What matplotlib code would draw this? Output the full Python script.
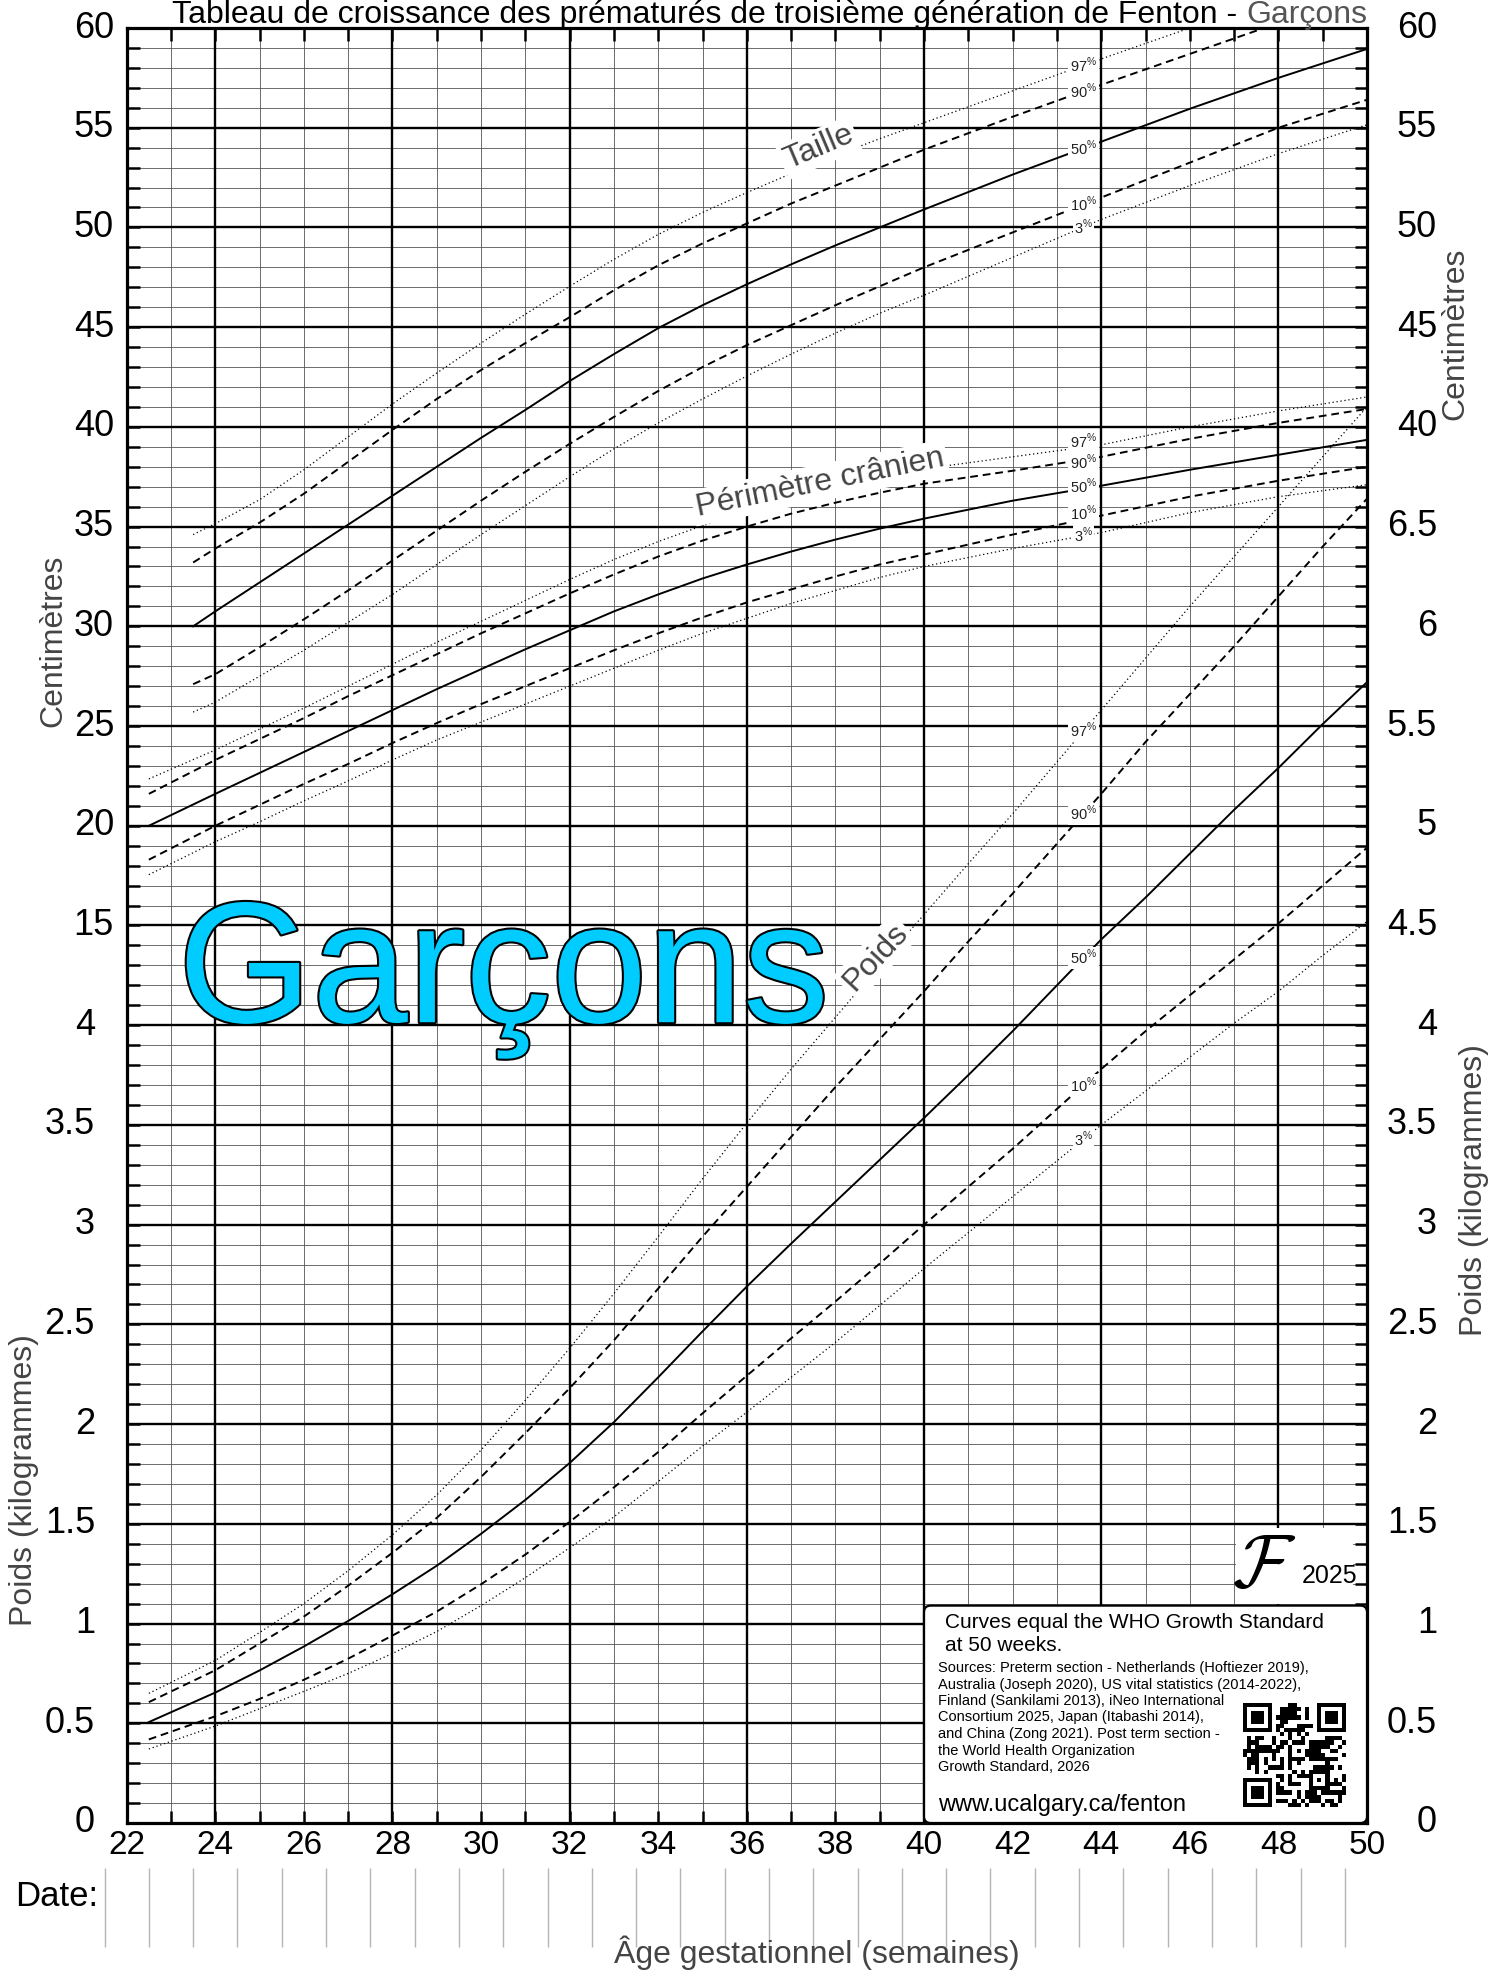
import numpy as np
import matplotlib
matplotlib.use('Agg')
import matplotlib.pyplot as plt
import matplotlib.patheffects as pe
import matplotlib.transforms as mtrans
from matplotlib.patches import FancyBboxPatch, Rectangle

plt.rcParams['font.family'] = ['Liberation Sans', 'DejaVu Sans']
plt.rcParams['mathtext.fontset'] = 'custom'
plt.rcParams['mathtext.rm'] = 'Liberation Sans'

# ---- donnees ----
# Taille (cm)
weeks_len = [23.5, 24, 25, 26, 27, 28, 29, 30, 31, 32, 33, 34, 35, 36, 37, 38, 39, 40, 42, 44, 46, 48, 50]
len_p97 = [34.6, 35.15, 36.35, 37.85, 39.5, 41.15, 42.7, 44.2, 45.65, 47.05, 48.4, 49.65, 50.75, 51.75, 52.7, 53.6, 54.45, 55.25, 56.85, 58.45, 60.0, 61.5, 62.8]
len_p90 = [33.2, 33.9, 35.2, 36.65, 38.25, 39.85, 41.4, 42.85, 44.2, 45.5, 46.85, 48.1, 49.2, 50.2, 51.2, 52.1, 53.0, 53.9, 55.55, 57.15, 58.7, 60.25, 61.6]
len_p50 = [30.0, 30.75, 32.2, 33.65, 35.1, 36.55, 38.0, 39.45, 40.85, 42.3, 43.65, 44.95, 46.1, 47.15, 48.15, 49.1, 50.0, 50.9, 52.65, 54.3, 55.95, 57.5, 58.95]
len_p10 = [27.1, 27.6, 28.95, 30.35, 31.8, 33.3, 34.8, 36.3, 37.75, 39.15, 40.5, 41.8, 43.0, 44.1, 45.1, 46.1, 47.05, 48.0, 49.75, 51.5, 53.25, 55.0, 56.4]
len_p3 = [25.7, 26.2, 27.5, 28.8, 30.2, 31.6, 33.1, 34.6, 36.05, 37.5, 38.9, 40.2, 41.4, 42.55, 43.65, 44.7, 45.7, 46.6, 48.5, 50.4, 52.1, 53.7, 55.15]

# Perimetre cranien (cm)
weeks_hc = [22.5, 24, 25, 26, 27, 28, 29, 30, 31, 32, 33, 34, 35, 36, 37, 38, 39, 40, 42, 44, 46, 48, 50]
hc_p97 = [22.35, 23.8, 24.85, 25.9, 27.0, 28.1, 29.2, 30.25, 31.3, 32.35, 33.35, 34.25, 35.05, 35.75, 36.35, 36.9, 37.45, 37.9, 38.5, 39.1, 40.0, 40.8, 41.5]
hc_p90 = [21.6, 23.3, 24.35, 25.4, 26.5, 27.55, 28.6, 29.65, 30.65, 31.65, 32.6, 33.5, 34.3, 35.0, 35.65, 36.2, 36.7, 37.15, 37.8, 38.5, 39.4, 40.2, 40.9]
hc_p50 = [20.0, 21.6, 22.65, 23.7, 24.75, 25.8, 26.85, 27.85, 28.85, 29.8, 30.75, 31.6, 32.4, 33.1, 33.75, 34.35, 34.9, 35.4, 36.3, 37.05, 37.85, 38.6, 39.35]
hc_p10 = [18.3, 20.0, 21.05, 22.1, 23.1, 24.15, 25.15, 26.1, 27.0, 27.9, 28.8, 29.65, 30.45, 31.2, 31.85, 32.5, 33.1, 33.6, 34.6, 35.55, 36.5, 37.3, 38.0]
hc_p3 = [17.55, 19.2, 20.2, 21.25, 22.25, 23.3, 24.3, 25.2, 26.1, 27.0, 27.9, 28.8, 29.65, 30.4, 31.15, 31.8, 32.45, 33.0, 33.9, 34.7, 35.7, 36.5, 37.1]

# Poids (kg)
weeks_wt = [22.5, 24, 25, 26, 27, 28, 29, 30, 31, 32, 33, 34, 35, 36, 37, 38, 39, 40, 41, 42, 43, 44, 45, 46, 47, 48, 49, 50]
wt_p97 = [0.65, 0.815, 0.955, 1.10, 1.265, 1.445, 1.645, 1.87, 2.12, 2.38, 2.655, 2.94, 3.23, 3.51, 3.78, 4.04, 4.30, 4.555, 4.81, 5.06, 5.32, 5.58, 5.84, 6.10, 6.35, 6.60, 6.85, 7.10]
wt_p90 = [0.606, 0.766, 0.90, 1.035, 1.19, 1.355, 1.53, 1.735, 1.955, 2.18, 2.42, 2.68, 2.94, 3.19, 3.44, 3.69, 3.93, 4.17, 4.42, 4.66, 4.91, 5.16, 5.42, 5.66, 5.90, 6.15, 6.40, 6.64]
wt_p50 = [0.506, 0.654, 0.765, 0.885, 1.013, 1.147, 1.29, 1.45, 1.62, 1.805, 2.01, 2.235, 2.465, 2.69, 2.905, 3.115, 3.325, 3.535, 3.75, 3.97, 4.20, 4.43, 4.64, 4.86, 5.08, 5.29, 5.51, 5.72]
wt_p10 = [0.419, 0.535, 0.622, 0.718, 0.824, 0.94, 1.06, 1.197, 1.346, 1.51, 1.683, 1.86, 2.054, 2.243, 2.43, 2.615, 2.805, 3.00, 3.19, 3.38, 3.58, 3.78, 3.97, 4.15, 4.33, 4.51, 4.70, 4.89]
wt_p3 = [0.371, 0.486, 0.573, 0.66, 0.75, 0.85, 0.96, 1.09, 1.23, 1.38, 1.535, 1.712, 1.89, 2.06, 2.235, 2.41, 2.595, 2.78, 2.96, 3.14, 3.32, 3.50, 3.67, 3.84, 4.01, 4.17, 4.35, 4.52]

pct_names = [97, 90, 50, 10, 3]
left_cm_labels = ['60', '55', '50', '45', '40', '35', '30', '25', '20', '15']
left_kg_labels = ['4', '3.5', '3', '2.5', '2', '1.5', '1', '0.5', '0']
right_cm_labels = ['60', '55', '50', '45', '40']
right_kg_labels = ['6.5', '6', '5.5', '5', '4.5', '4', '3.5', '3', '2.5', '2', '1.5', '1', '0.5', '0']

W, H = 1506, 1975
fig = plt.figure(figsize=(W / 100, H / 100), dpi=100)
x0, x1, y0, y1 = 126.7, 1367, 28, 1823
pos = [x0 / W, 1 - y1 / H, (x1 - x0) / W, (y1 - y0) / H]
ax = fig.add_axes(pos)
ax.set_xlim(22, 50)
ax.set_ylim(-30, 60)

# grille
ax.vlines(np.arange(23, 50), -30, 60, color='#555', lw=0.6, zorder=1)
ax.hlines(np.arange(-29, 60), 22, 50, color='#555', lw=0.6, zorder=1)
ax.vlines(np.arange(24, 50, 4), -30, 60, color='black', lw=1.7, zorder=1.2)
ax.hlines(np.arange(-25, 60, 5), 22, 50, color='black', lw=1.7, zorder=1.2)
for s in ax.spines.values():
    s.set_linewidth(2.3)

ax.set_xticks(np.arange(22, 51, 2))
ax.set_xticks(np.arange(23, 50, 2), minor=True)
ax.set_yticks(np.arange(-30, 61, 5))
ax.set_yticks(np.arange(-29, 60, 1), minor=True)
ax.tick_params(axis='both', which='both', direction='in', length=9, width=1.8,
               top=True, right=True, left=True, bottom=True)
ax.tick_params(axis='y', labelleft=False)
ax.tick_params(axis='x', labelsize=24, pad=5)

styles = {97: dict(ls=(0, (1, 2.2)), lw=0.9), 90: dict(ls=(0, (4, 2.5)), lw=1.4),
          50: dict(ls='-', lw=1.4), 10: dict(ls=(0, (4, 2.5)), lw=1.4),
          3: dict(ls=(0, (1, 2.2)), lw=0.9)}


def pct_label(a, x, y, ypos=None):
    for i, (p, v) in enumerate(zip(pct_names, y)):
        yy = np.interp(43.6, x, v) if ypos is None else ypos[i]
        a.text(43.6, yy, rf'{p}$^{{\%}}$', fontsize=10.5, color='#222', ha='center', va='center',
               zorder=6, bbox=dict(boxstyle='square,pad=0.1', fc='white', ec='none'))


for p, v in zip(pct_names, [len_p97, len_p90, len_p50, len_p10, len_p3]):
    ax.plot(weeks_len, v, color='black', zorder=3, **styles[p])
for p, v in zip(pct_names, [hc_p97, hc_p90, hc_p50, hc_p10, hc_p3]):
    ax.plot(weeks_hc, v, color='black', zorder=3, **styles[p])
pct_label(ax, weeks_len, [len_p97, len_p90, len_p50, len_p10, len_p3])
pct_label(ax, weeks_hc, [hc_p97, hc_p90, hc_p50, hc_p10, hc_p3], ypos=[39.25, 38.2, 37.0, 35.65, 34.55])

white_bb = dict(boxstyle='square,pad=0.1', fc='white', ec='none')
ax.text(37.62, 54.0, 'Taille', fontsize=23, color='#444', rotation=23,
        ha='center', va='center', zorder=5, bbox=white_bb)
ax.text(37.65, 37.2, 'Périmètre crânien', fontsize=23, color='#444', rotation=11.5,
        ha='center', va='center', zorder=5, bbox=white_bb)

# etiquettes des axes y
ytr = ax.get_yaxis_transform()
for lab, u in zip(left_cm_labels, np.arange(60, 14, -5)):
    ax.text((114 - x0) / (x1 - x0), u, lab, transform=ytr, ha='right', va='center', fontsize=26, clip_on=False)
for lab, u in zip(left_kg_labels, np.arange(10, -31, -5)):
    ax.text((95 - x0) / (x1 - x0), u, lab, transform=ytr, ha='right', va='center', fontsize=26, clip_on=False)
for lab, u in zip(right_cm_labels + right_kg_labels, np.arange(60, -31, -5)):
    ax.text((1437 - x0) / (x1 - x0), u, lab, transform=ytr, ha='right', va='center', fontsize=26, clip_on=False)

# axe des poids superpose (kg)
axw = fig.add_axes(pos)
axw.set_xlim(22, 50)
axw.set_ylim(0, 9)
axw.axis('off')
for p, v in zip(pct_names, [wt_p97, wt_p90, wt_p50, wt_p10, wt_p3]):
    axw.plot(weeks_wt, v, color='black', zorder=3, **styles[p])
pct_label(axw, weeks_wt, [wt_p97, wt_p90, wt_p50, wt_p10, wt_p3])

axw.text(23.16, 4.015, 'Garçons', fontsize=124, color='#00CCFF', ha='left', va='baseline', zorder=2,
         path_effects=[pe.withStroke(linewidth=3, foreground='black')])
axw.text(38.9, 4.34, 'Poids', fontsize=23, color='#444', rotation=47,
         ha='center', va='center', zorder=5, bbox=white_bb)

# logo
axw.add_patch(Rectangle((47.05, 1.10), 2.63, 0.38, fc='white', ec='none', zorder=3))
axw.text(47.68, 1.285, r'$\mathcal{F}$', fontsize=54, math_fontfamily='cm', ha='center', va='center', zorder=4)
axw.text(48.52, 1.202, '2025', fontsize=18, ha='left', va='baseline', zorder=4)

# encadre des sources
box = FancyBboxPatch((40, 0), 10, 1.09, boxstyle='round,pad=0,rounding_size=0.15', mutation_aspect=0.222,
                     fc='white', ec='black', lw=1.6, zorder=4)
axw.add_patch(box)


def ftxt(px, py, s, **kw):
    return fig.text(px / W, 1 - py / H, s, **kw)


ftxt(945, 1628, 'Curves equal the WHO Growth Standard', fontsize=15, va='baseline', zorder=7)
ftxt(945, 1651, 'at 50 weeks.', fontsize=15, va='baseline', zorder=7)
sources = ['Sources: Preterm section - Netherlands (Hoftiezer 2019),',
           'Australia (Joseph 2020), US vital statistics (2014-2022),',
           'Finland (Sankilami 2013), iNeo International',
           'Consortium 2025, Japan (Itabashi 2014),',
           'and China (Zong 2021). Post term section -',
           'the World Health Organization',
           'Growth Standard, 2026']
for i, line in enumerate(sources):
    ftxt(938, 1672 + 16.5 * i, line, fontsize=10.5, va='baseline', zorder=7)
ftxt(938, 1811, 'www.ucalgary.ca/fenton', fontsize=17, va='baseline', zorder=7)

# code QR (motif decoratif)
src = np.frombuffer(b'www.ucalgary.ca/fenton' * 4, dtype=np.uint8)
bits = np.unpackbits(src)[:625].reshape(25, 25)
qr = (bits + bits.T[::-1]) % 2
finder = np.ones((7, 7), int)
finder[1:6, 1:6] = 0
finder[2:5, 2:5] = 1
for r, c in [(0, 0), (0, 18), (18, 0)]:
    r0, c0 = max(r - 1, 0), max(c - 1, 0)
    qr[r0:min(r + 8, 25), c0:min(c + 8, 25)] = 0
    qr[r:r + 7, c:c + 7] = finder
align = np.ones((5, 5), int)
align[1:4, 1:4] = 0
align[2, 2] = 1
qr[16:21, 16:21] = align
axw.imshow(qr, cmap='gray_r', extent=[47.2, 49.52, 0.078, 0.595], aspect='auto',
           interpolation='nearest', zorder=6)
axw.set_xlim(22, 50)
axw.set_ylim(0, 9)

# ligne des dates
dtr = mtrans.blended_transform_factory(ax.transData, fig.transFigure)
ax.vlines(np.arange(21.5, 50, 1), 1 - 1947 / H, 1 - 1868 / H, transform=dtr,
          color='#b5b5b5', lw=1.0, clip_on=False)
ftxt(15, 1897, 'Date:', fontsize=25, va='center', ha='left')
ftxt(817, 1953, 'Âge gestationnel (semaines)', fontsize=23, color='#444', ha='center', va='center')

# titres des axes
ftxt(53.5, 641, 'Centimètres', fontsize=23, color='#444', rotation=90, ha='center', va='center')
ftxt(1455, 334, 'Centimètres', fontsize=23, color='#444', rotation=90, ha='center', va='center')
ftxt(24, 1480, 'Poids (kilogrammes)', fontsize=23, color='#444', rotation=90, ha='center', va='center')
ftxt(1474, 1190, 'Poids (kilogrammes)', fontsize=23, color='#444', rotation=90, ha='center', va='center')

# titre
tg = ftxt(x1, 23, 'Garçons', fontsize=23, color='#555', ha='right', va='baseline')
fig.canvas.draw()
bb = tg.get_window_extent(fig.canvas.get_renderer())
fig.text((bb.x0 - 9) / W, 1 - 23 / H,
         'Tableau de croissance des prématurés de troisième génération de Fenton -',
         fontsize=23, color='black', ha='right', va='baseline')

fig.savefig('out.png', dpi=100)
